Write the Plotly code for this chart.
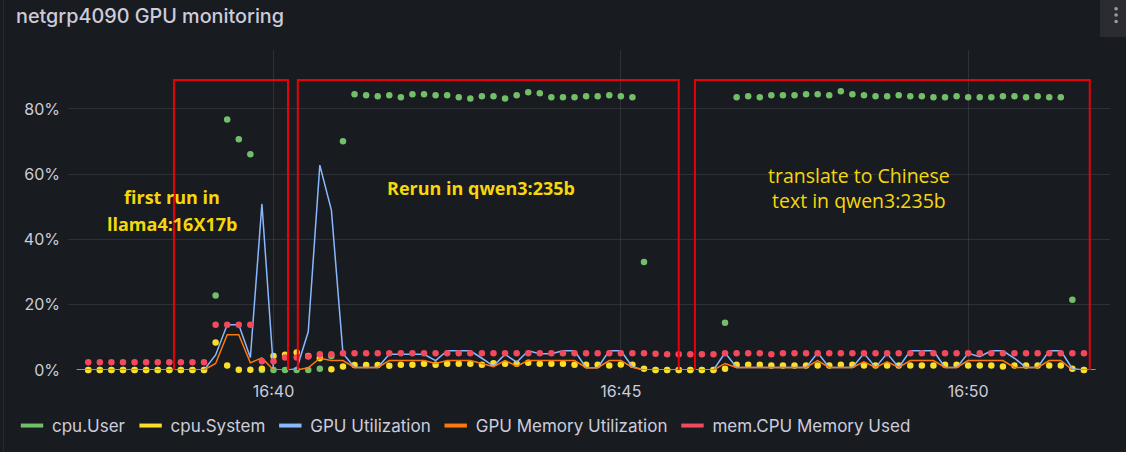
import pandas as pd
import plotly.graph_objects as go

# ---------------- data ----------------
START_TIME = "2025-01-01 16:37:10"
STEP_SECONDS = 10
N_POINTS = 89
times = pd.date_range(START_TIME, periods=N_POINTS, freq=f"{STEP_SECONDS}s")

cpu_user = ([None]
            + [0] * 11
            + [22.8, 76.8, 70.7, 66.1]
            + [0, 0, 0, 0, 0]
            + [0.4, 4.3, 70.1]
            + [84.5, 84.2, 83.9, 84.2, 83.6, 84.5, 84.5, 84.2, 84.2, 83.6, 83.2, 83.9, 83.9,
               83.2, 84.2, 85.1, 84.8, 83.6, 83.6, 83.6, 83.9, 83.9, 84.2, 83.9, 83.6]
            + [33.1]
            + [0] * 6
            + [14.5]
            + [83.6, 83.9, 83.6, 84.2, 84.2, 84.2, 84.5, 84.5, 84.2, 85.4, 84.5, 84.2, 83.9, 83.9,
               84.2, 83.9, 83.9, 83.6, 83.6, 83.9, 83.6, 83.6, 83.6, 83.9, 83.9, 83.6, 83.9, 83.6, 83.6]
            + [21.5, 0, None])

cpu_system = ([None]
              + [0] * 11
              + [8.4, 1.4, 0.1, 0.1]
              + [0.4, 4.3, 4.7, 5.4, 4.3, 3.6, 0.2, 1.1]
              + [1.5, 1.5, 1.5, 1.3, 1.6, 1.6, 1.9, 1.6, 1.9, 1.9, 1.9, 1.6, 2.1, 1.9, 1.9, 2.2,
                 1.9, 1.9, 1.9, 1.6, 1.6, 1.6, 1.4, 1.7, 1.6]
              + [0.4]
              + [0] * 6
              + [0.4]
              + [1.6, 1.6, 1.6, 1.4, 1.4, 1.4, 1.4, 1.4, 1.4, 1.6, 1.6, 1.4, 1.4, 1.4, 1.4, 1.4,
                 1.4, 1.4, 1.6, 1.6, 1.4, 1.4, 1.4, 1.1, 1.4, 1.4, 1.4, 1.4, 1.4]
              + [0.4, 0, None])

gpu_util = ([0] * 12
            + [4.6, 13.9, 13.9, 3.8, 50.9]
            + [0, 0, 0.3, 11.7, 62.8, 49.0, 5.1]
            + [0.8, 0.8, 0.8]
            + [4.8, 4.8, 4.8, 4.8, 2.9, 5.9, 5.9, 5.9, 3.6, 1.2, 4.8, 2.4, 5.9, 5.0, 5.0, 5.9,
               5.9, 0.7, 0.7, 5.9, 5.9]
            + [1.0]
            + [0] * 7
            + [5.3]
            + [0.8] * 7
            + [5.3]
            + [0.8, 0.8, 0.8]
            + [5.1, 0.8, 5.1, 0.8]
            + [5.9, 5.9, 5.9]
            + [0.8, 0.8]
            + [5.1, 4.1, 5.9, 5.9, 3.6]
            + [0.8, 0.8]
            + [5.9, 5.9]
            + [0.4, 0, 0])

gpu_mem = ([0] * 12
           + [2.0, 10.8, 10.8, 2.2, 3.7]
           + [0, 0, 0, 0.7, 3.6, 2.9, 2.9]
           + [0.8, 0.8, 0.8]
           + [2.9, 2.9, 2.9, 2.9, 2.0, 2.9, 2.9, 2.9, 2.0, 1.0, 2.9, 1.2, 2.9, 2.9, 2.9, 2.9,
              2.9, 0.7, 0.7, 2.9, 2.9]
           + [0.8]
           + [0] * 7
           + [2.0]
           + [0.8] * 7
           + [2.9]
           + [0.8, 0.8, 0.8]
           + [2.5, 0.8, 2.5, 0.8]
           + [2.9, 2.9, 2.9]
           + [0.8, 0.8]
           + [2.9, 2.9, 2.9, 2.9, 0.8]
           + [0.8, 0.8]
           + [2.9, 2.9]
           + [0, 0, 0])

mem_used = ([None]
            + [2.4] * 11
            + [13.9] * 4
            + [2.7, 2.7, 3.8, 3.8, 4.1, 4.8, 4.8]
            + [5.1] * 27
            + [5.0, 4.8, 4.8, 4.8, 4.8, 4.8]
            + [5.1] * 4
            + [4.8]
            + [5.1] * 27
            + [None])

series_names = ["cpu.User", "cpu.System", "GPU Utilization", "GPU Memory Utilization",
                "mem.CPU Memory Used"]
series_colors = ["#73BF69", "#FADE2A", "#8AB8FF", "#FF780A", "#F2495C"]

y_ticks = [0, 20, 40, 60, 80]
y_tick_labels = ["0%", "20%", "40%", "60%", "80%"]

# annotated regions (start, end) and their labels
regions = [("2025-01-01 16:38:34", "2025-01-01 16:40:12.5"),
           ("2025-01-01 16:40:21", "2025-01-01 16:45:50"),
           ("2025-01-01 16:46:04", "2025-01-01 16:51:45")]
region_y = (-3.4, 88.9)
notes = [
    ("2025-01-01 16:38:32", 53.1, "first run in", True),
    ("2025-01-01 16:38:32", 44.8, "llama4:16X17b", True),
    ("2025-01-01 16:42:59", 55.9, "Rerun in qwen3:235b", True),
    ("2025-01-01 16:48:26", 55.8, "translate to Chinese<br>text in qwen3:235b", False),
]

# ---------------- figure ----------------
BG = "#181b1f"
TXT = "#ccccdc"
GRID = "rgba(204,204,220,0.12)"
FONT = "Inter"
W, H = 1126, 452

fig = go.Figure()
series = [cpu_user, cpu_system, gpu_util, gpu_mem, mem_used]
is_points = [True, True, False, False, True]
for name, vals, col, pts in zip(series_names, series, series_colors, is_points):
    if pts:
        fig.add_trace(go.Scatter(x=times, y=vals, name=name, mode="markers",
                                 marker=dict(color=col, size=6.5, line=dict(width=0)),
                                 cliponaxis=False, showlegend=False))
    else:
        fig.add_trace(go.Scatter(x=times, y=vals, name=name, mode="lines",
                                 line=dict(color=col, width=1.5),
                                 cliponaxis=False, showlegend=False))

# legend entries (Grafana-style short dashes)
for name, col in zip(series_names, series_colors):
    fig.add_trace(go.Scatter(x=[None], y=[None], name=name, mode="markers",
                             marker=dict(symbol="line-ew", size=16, color=col,
                                         line=dict(color=col, width=4)),
                             showlegend=True))

shapes = []
for x0, x1 in regions:
    shapes.append(dict(type="rect", xref="x", yref="y", x0=x0, x1=x1,
                       y0=region_y[0], y1=region_y[1],
                       line=dict(color="#e8000b", width=2), fillcolor="rgba(0,0,0,0)",
                       layer="above"))

# panel decorations (left border, menu button)
PX_L, PX_W, PX_B, PX_H = 68, 1042, 370, 320
def px(xp):
    return (xp - PX_L) / PX_W
def py(yp):
    return (PX_B - yp) / PX_H

shapes.append(dict(type="line", xref="paper", yref="paper", x0=px(3.5), x1=px(3.5),
                   y0=py(460), y1=py(-10), line=dict(color="#262930", width=1)))
shapes.append(dict(type="rect", xref="paper", yref="paper", x0=px(1100), x1=px(1130),
                   y0=py(37), y1=py(-5), line=dict(width=0), fillcolor="#2a2c32"))
for cy in (8.7, 15, 21.5):
    shapes.append(dict(type="circle", xref="paper", yref="paper",
                       x0=px(1114.3), x1=px(1117.9), y0=py(cy + 1.8), y1=py(cy - 1.8),
                       line=dict(width=0), fillcolor="#9a9ba6"))

annotations = []
for xc, yv, txt, bold in notes:
    annotations.append(dict(x=xc, y=yv, xref="x", yref="y", text=txt, showarrow=False,
                            xanchor="center", yanchor="middle", align="center",
                            font=dict(family="Open Sans", size=18 if bold else 19.5,
                                      color="#f5d70c",
                                      weight="bold" if bold else "normal")))

fig.update_layout(
    width=W, height=H,
    margin=dict(l=68, r=16, t=50, b=82, pad=0, autoexpand=False),
    paper_bgcolor=BG, plot_bgcolor=BG,
    font=dict(family=FONT, color=TXT, size=16),
    title=dict(text="netgrp4090 GPU monitoring", xref="container", yref="container",
               x=16 / W, y=1 - 16 / H, xanchor="left", yanchor="middle",
               font=dict(family=FONT, size=19.8, color=TXT, weight=500)),
    shapes=shapes,
    annotations=annotations,
    showlegend=True,
    legend=dict(orientation="h", xref="container", yref="container",
                x=12 / W, y=1 - 426 / H, xanchor="left", yanchor="middle",
                font=dict(family=FONT, size=17, color=TXT), bgcolor="rgba(0,0,0,0)",
                itemclick=False),
    xaxis=dict(type="date", range=["2025-01-01 16:37:02.5", "2025-01-01 16:52:02.5"],
               tick0="2025-01-01 16:40:00", dtick=300000, tickformat="%H:%M",
               showgrid=True, gridcolor=GRID, gridwidth=1, zeroline=False, showline=False,
               ticks="", ticklabelstandoff=10, automargin=False,
               tickfont=dict(size=16, color=TXT)),
    yaxis=dict(range=[0, 98.08], tickmode="array", tickvals=y_ticks, ticktext=y_tick_labels,
               showgrid=True, gridcolor=GRID, gridwidth=1, zeroline=False, showline=False,
               ticks="", ticklabelstandoff=7, automargin=False,
               tickfont=dict(size=16, color=TXT)),
    hovermode=False,
)

fig.write_html("out.html")
